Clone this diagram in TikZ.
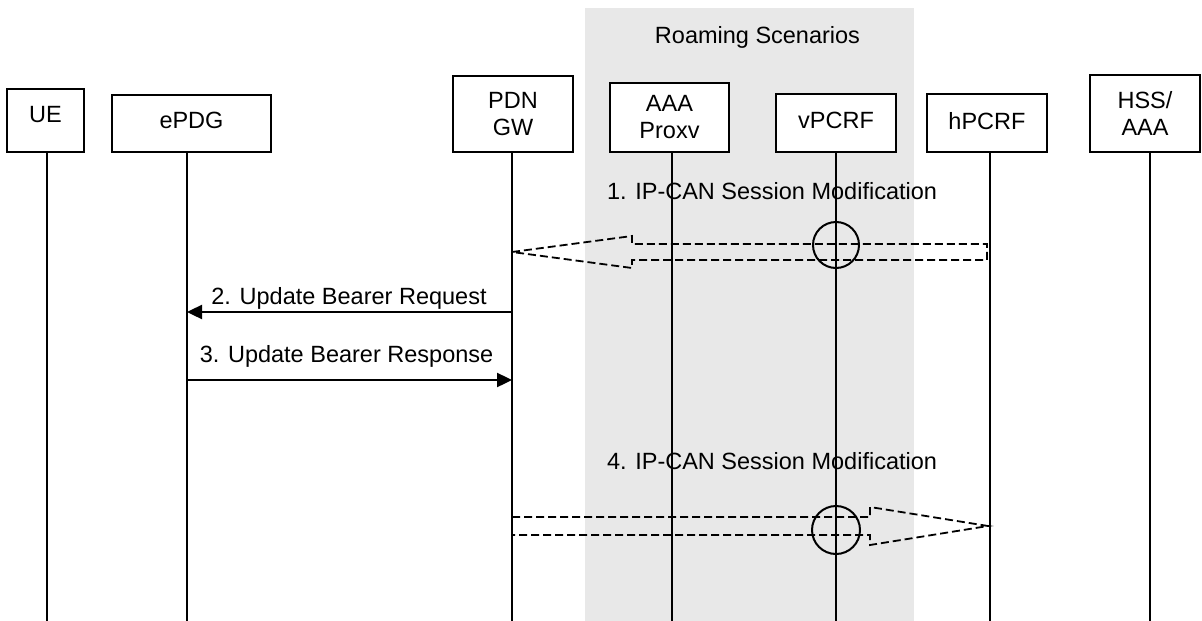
\documentclass[tikz,border=0pt]{standalone}
\usepackage{fontspec}
\setmainfont{Liberation Sans}
\usetikzlibrary{arrows.meta,calc}
\definecolor{roamgrey}{RGB}{232,232,232}
\begin{document}
\begin{tikzpicture}[x=1pt,y=-1pt,
  every node/.style={font=\fontsize{23.5}{27}\selectfont},
  box/.style={draw,line width=1.7pt,inner sep=0pt,align=center,fill=white},
  life/.style={line width=1.8pt},
  msg/.style={line width=2.4pt,-{Triangle[length=15pt,width=14pt]}},
  hollow/.style={line width=1.8pt,dash pattern=on 8pt off 4pt,line join=miter},
  ring/.style={line width=2pt},
  lbl/.style={anchor=base,inner sep=0pt}]
\useasboundingbox (0,0) rectangle (1202,621);
% roaming area
\fill[roamgrey] (585,8) rectangle (914,621);
\node[lbl] (roam) at (757.5,43) {Roaming Scenarios};
% boxes
\node[box,minimum width=77pt,minimum height=63pt,text depth=12pt] (ue) at (45.5,120.5) {UE};
\node[box,minimum width=159pt,minimum height=57pt,text depth=6pt] (epdg) at (191.5,123.5) {ePDG};
\node[box,minimum width=120pt,minimum height=76pt] (pdn) at (513,114) {PDN\\GW};
\node[box,minimum width=119pt,minimum height=69pt] (aaa) at (669.5,117.5) {AAA\\Proxv};
\node[box,minimum width=120pt,minimum height=58pt,text depth=5pt] (vpcrf) at (836,123) {vPCRF};
\node[box,minimum width=120pt,minimum height=58pt,text depth=5pt] (hpcrf) at (987,123) {hPCRF};
\node[box,minimum width=110pt,minimum height=77pt] (hss) at (1145,113.5) {HSS/\\AAA};
% lifelines
\coordinate (ueL) at (47,621);
\coordinate (epdgL) at (187,621);
\coordinate (pdnL) at (512,621);
\coordinate (aaaL) at (672,621);
\coordinate (vpcrfL) at (836,621);
\coordinate (hpcrfL) at (990,621);
\coordinate (hssL) at (1150,621);
\foreach \n in {ue,epdg,pdn,aaa,vpcrf,hpcrf,hss}
  \draw[life] (\n.south -| \n L) -- (\n L);
% message labels
\node[lbl] (l1) at (772,199) {1. IP-CAN Session Modification};
\node[lbl] (l2) at (349,304) {2. Update Bearer Request};
\node[lbl] (l3) at (346.5,362) {3. Update Bearer Response};
\node[lbl] (l4) at (772,469) {4. IP-CAN Session Modification};
% message 1 (hollow dashed arrow to PDN GW)
\coordinate (m1tip) at (pdnL |- 0,252);
\coordinate (m1end) at ($(hpcrfL |- 0,252)+(-3,0)$);
\draw[hollow] (m1tip) -- ++(120,-16) -- ++(0,8) -- (m1end |- 0,244)
  -- (m1end |- 0,260) -- (632,260) -- (632,268) -- cycle;
\draw[ring] (vpcrfL |- 0,245) circle[radius=23pt];
% message 2
\draw[msg] (pdnL |- 0,312) -- (epdgL |- 0,312);
% message 3
\draw[msg] (epdgL |- 0,380) -- (pdnL |- 0,380);
% message 4 (hollow dashed arrow to hPCRF)
\coordinate (m4start) at (pdnL |- 0,526);
\coordinate (m4tip) at ($(hpcrfL |- 0,526)+(-2,0)$);
\draw[hollow] (m4start |- 0,517) -- (870,517) -- (870,507) -- (m4tip)
  -- (870,545) -- (870,535) -- (m4start |- 0,535) -- cycle;
\draw[ring] (vpcrfL |- 0,530) circle[radius=24pt];
\end{tikzpicture}
\end{document}
